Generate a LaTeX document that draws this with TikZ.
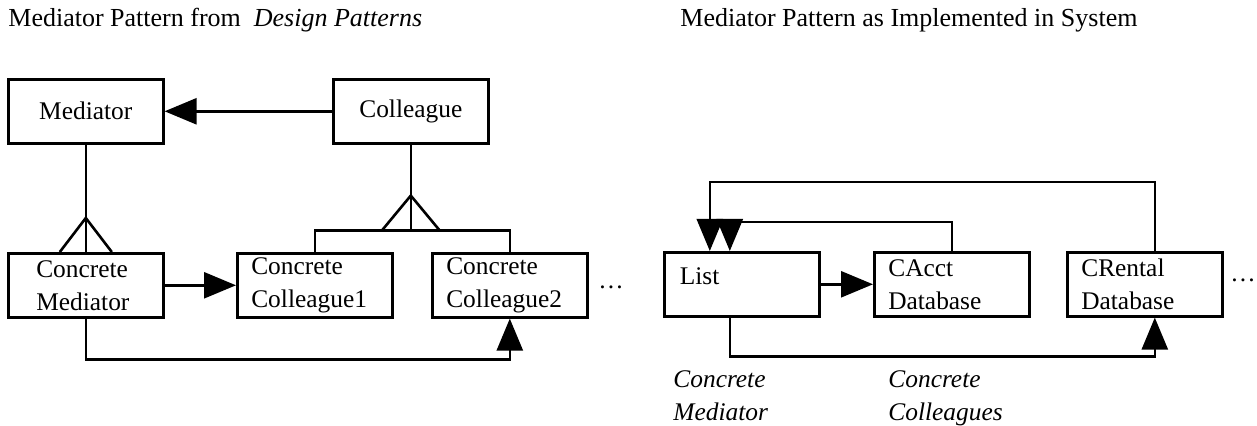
\documentclass[tikz,border=0pt]{standalone}
\usepackage{fontspec}
\setmainfont{Liberation Serif}
\usetikzlibrary{arrows.meta}

\tikzset{
  box/.style={draw, line width=1.3pt, minimum width=77.5pt, minimum height=32pt,
    inner sep=0pt, anchor=north west, font=\fontsize{12.7}{16.5}\selectfont},
  twoline/.style={box, align=left, text width=63.5pt},
  conn/.style={line width=1.3pt},
  head/.style={conn, -{Triangle[length=16pt,width=13pt]}},
  role/.style={anchor=north west, inner sep=0pt, align=left,
    font=\fontsize{12.7}{16.5}\selectfont\itshape},
  heading/.style={anchor=west, inner sep=0pt, font=\fontsize{13}{16}\selectfont}
}

\begin{document}
\begin{tikzpicture}[x=0.5pt,y=-0.5pt]
  \useasboundingbox (0,0) rectangle (1257,426);

  % headings
  \node[heading] (lhead) at (8,20) {Mediator Pattern from \ \textit{Design Patterns}};
  \node[heading] (rhead) at (680,20) {Mediator Pattern as Implemented in System};

  % the pattern as in the book
  \node[box] (med) at (7,78) {Mediator};
  \node[box] (col) at (332,78) {Colleague};
  \node[twoline, text width=49.5pt] (cmed) at (7,252) {Concrete\\Mediator};
  \node[twoline] (ccol1) at (236,252) {Concrete\\Colleague1};
  \node[twoline] (ccol2) at (431,252) {Concrete\\Colleague2};
  \node[font=\fontsize{12.7}{16}\selectfont, inner sep=0pt] (moreL) at (611,287) {\dots};

  \draw[head] (col.west) -- (med.east);
  \draw[head] (cmed.east) -- (ccol1.west);
  \draw[head] (cmed.south) -- ++(0,41) -| (ccol2.south);

  % inheritance
  \draw[conn] (med.south) -- (cmed.north);
  \draw[conn] (cmed.north) ++(-26,0) -- ++(26,-34) -- ++(26,34);
  \draw[conn] (col.south) -- ++(0,86) coordinate (cbase);
  \draw[conn] (cbase) ++(-29,0) -- ++(29,-35) -- ++(29,35);
  \draw[conn] (ccol1.north) |- (cbase) -| (ccol2.north);

  % the pattern in the system
  \node[box, text height=9pt, text depth=9pt, align=left, text width=62pt] (list) at (663,251) {List};
  \node[twoline] (acct) at (873,251) {CAcct\\Database};
  \node[twoline] (rental) at (1066,251) {CRental\\Database};
  \node[font=\fontsize{12.7}{16}\selectfont, inner sep=0pt] (moreR) at (1243,280) {\dots};

  \draw[head] (list.east) -- (acct.west);
  \draw[head] (acct.north) -- ++(0,-29) -| ([xshift=-6pt]list.north);
  \draw[head] ([xshift=5pt]rental.north) -- ++(0,-69) -| ([xshift=-16pt]list.north);
  \draw[head] ([xshift=-6pt]list.south) -- ++(0,39) -| ([xshift=5pt]rental.south);

  \node[role] (rmed) at (673,370) {Concrete\\Mediator};
  \node[role] (rcol) at (888,370) {Concrete\\Colleagues};
\end{tikzpicture}
\end{document}
